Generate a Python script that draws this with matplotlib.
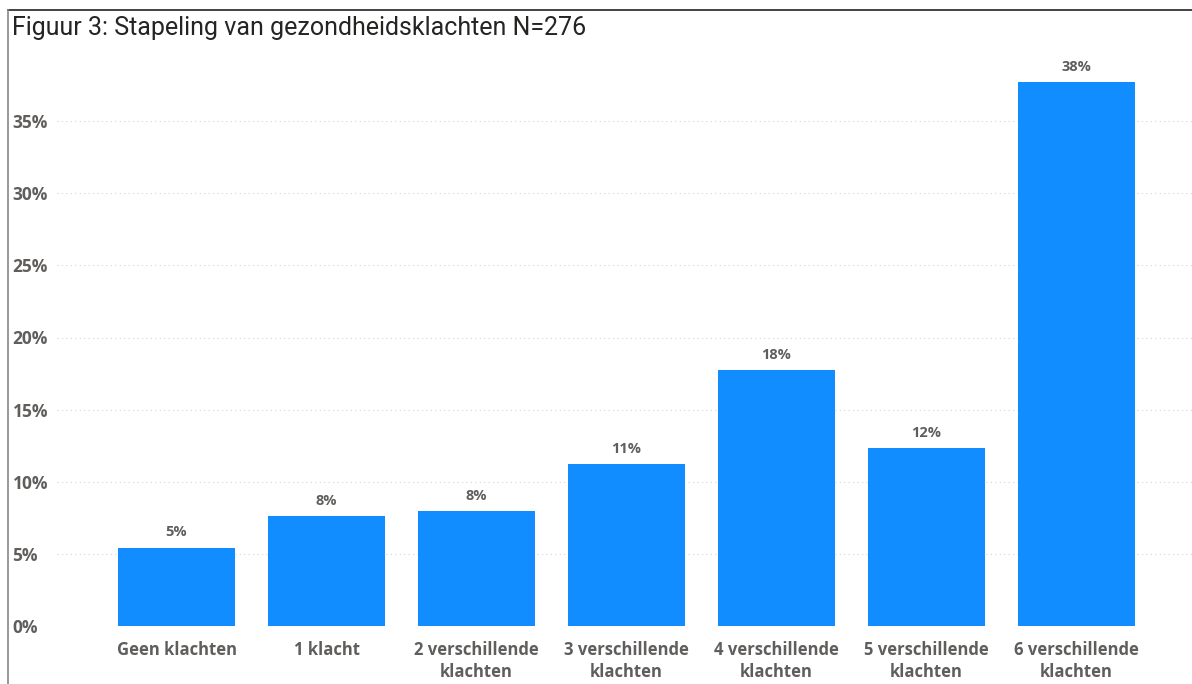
import numpy as np
import matplotlib.pyplot as plt
from matplotlib.lines import Line2D
from matplotlib.ticker import FuncFormatter

categories = [
    "Geen klachten",
    "1 klacht",
    "2 verschillende\nklachten",
    "3 verschillende\nklachten",
    "4 verschillende\nklachten",
    "5 verschillende\nklachten",
    "6 verschillende\nklachten",
]
counts = [15, 21, 22, 31, 49, 34, 104]
n_total = 276
percent = [100.0 * c / n_total for c in counts]
yticks = [0, 5, 10, 15, 20, 25, 30, 35]

bar_color = "#118DFF"
label_color = "#605E5C"

fig = plt.figure(figsize=(11.92, 6.84), dpi=100)
ax = fig.add_axes([57 / 1192, 1 - 626 / 684, 1 - 57 / 1192, (626 - 49) / 684])

x = np.arange(len(categories))
ax.bar(x, percent, width=0.78, color=bar_color, zorder=2)

for xi, p in zip(x, percent):
    ax.annotate(
        "{:.0f}%".format(p),
        (xi, p),
        xytext=(0, 6),
        textcoords="offset points",
        ha="center",
        va="bottom",
        fontsize=10.5,
        fontweight="bold",
        color=label_color,
        family="Open Sans",
    )

ax.set_xlim(-0.797, 6.77)
ax.set_ylim(0, 40)
ax.set_yticks(yticks)
ax.yaxis.set_major_formatter(FuncFormatter(lambda v, pos: "{:.0f}%".format(v)))
ax.set_xticks(x)
ax.set_xticklabels(categories, linespacing=1.3)
ax.grid(axis="y", linestyle=(0, (1, 3)), color="#D6D4D2", linewidth=0.8, zorder=0)

for lab in ax.get_xticklabels() + ax.get_yticklabels():
    lab.set_fontfamily("Open Sans")
    lab.set_fontweight("bold")
    lab.set_fontsize(12)
    lab.set_color(label_color)
for lab in ax.get_yticklabels():
    lab.set_fontsize(12.5)
    lab.set_horizontalalignment("left")

ax.tick_params(axis="both", length=0)
ax.tick_params(axis="x", pad=11)
ax.tick_params(axis="y", pad=32)
for s in ax.spines.values():
    s.set_visible(False)

# panel border (top and left)
fig.add_artist(Line2D([8 / 1192, 1], [1 - 10 / 684, 1 - 10 / 684], color="#222222", linewidth=1.2))
fig.add_artist(Line2D([8 / 1192, 8 / 1192], [0, 1 - 10 / 684], color="#888888", linewidth=1.2))

fig.text(
    12 / 1192,
    1 - 28 / 684,
    "Figuur 3: Stapeling van gezondheidsklachten N=276",
    fontsize=18,
    color="#252423",
    family="Roboto",
    va="center",
    ha="left",
)

plt.savefig("out.png", dpi=100)
plt.close(fig)
